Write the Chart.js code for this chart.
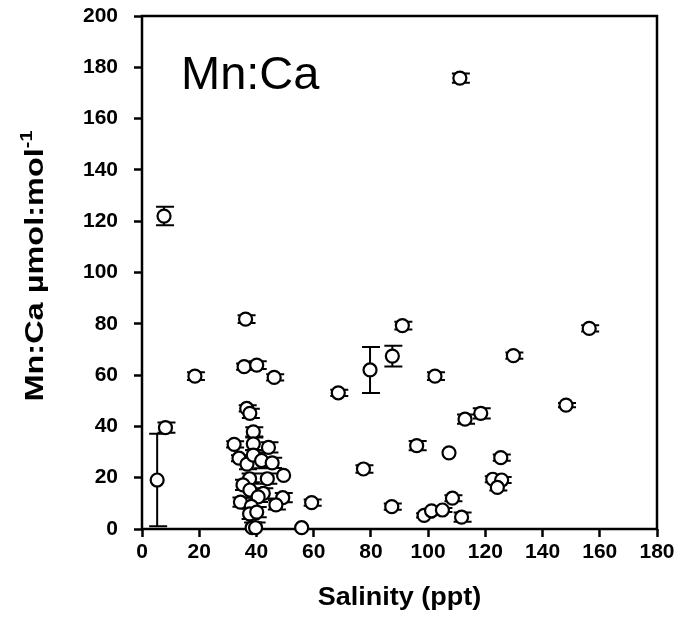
<!DOCTYPE html>
<html>
<head>
<meta charset="utf-8">
<script src="https://cdn.jsdelivr.net/npm/chart.js"></script>
<style>
  html, body { margin: 0; padding: 0; background: #fff; }
  #wrap { width: 685px; height: 636px; position: relative; }
</style>
</head>
<body>
<div id="wrap"><canvas id="mnChart"></canvas></div>
<script>
// salinity (ppt), Mn:Ca (umol/mol) and its error
const salinity = [
  5.3, 8.2, 7.7, 18.5, 36.2, 35.7, 40.1, 46.2, 68.6, 79.7,
  87.5, 91.0, 102.4, 111.1, 77.4, 96.0, 107.3, 87.3, 98.6, 101.2,
  105.0, 108.5, 111.7, 112.9, 118.4, 129.8, 156.3, 148.2, 125.4, 122.6,
  125.7, 124.2, 59.3, 55.8,
  36.6, 37.7, 38.9, 32.2, 38.9, 44.2, 33.9, 36.7, 38.9, 41.8,
  45.5, 49.5, 43.8, 37.6, 35.3, 37.7, 42.4, 40.6, 49.2, 34.4,
  38.2, 46.8, 37.6, 40.1, 38.5, 39.7
];
const mnca = [
  19.1, 39.5, 122.0, 59.6, 81.8, 63.3, 63.9, 59.1, 53.1, 62.0,
  67.4, 79.3, 59.6, 175.8, 23.4, 32.5, 29.7, 8.7, 5.3, 7.1,
  7.4, 12.0, 4.6, 42.8, 45.1, 67.6, 78.2, 48.3, 27.8, 19.4,
  19.1, 16.2, 10.3, 0.5,
  47.0, 45.1, 37.9, 33.0, 33.2, 31.8, 27.6, 25.3, 28.8, 26.7,
  25.8, 20.9, 19.6, 19.6, 17.2, 15.2, 13.9, 12.5, 12.2, 10.5,
  8.8, 9.4, 5.9, 6.6, 0.5, 0.5
];
const mncaErr = [
  18, 2, 3.6, 1.5, 1.5, 1.2, 1.5, 1.2, 1.2, 9,
  4, 1.5, 1.5, 1.8, 1.5, 1.8, 0, 1.2, 0.8, 0.8,
  0.8, 1.2, 1.8, 1.8, 2, 1.2, 1.2, 0.8, 1.2, 1.2,
  1.2, 1.2, 1.2, 0,
  1.2, 1.8, 1.8, 1.2, 2.5, 2, 1.2, 2, 2, 3,
  2, 0, 2, 2, 2, 3, 2, 2, 1.8, 1.8,
  2, 1.8, 2, 2, 2, 2
];
const xTicks = [0, 20, 40, 60, 80, 100, 120, 140, 160, 180];
const yTicks = [0, 20, 40, 60, 80, 100, 120, 140, 160, 180, 200];

const FONT = "'Liberation Sans', Arial, sans-serif";

const points = salinity.map((s, i) => ({ x: s, y: mnca[i] }));

// box round the plot area
const frame = {
  id: 'frame',
  beforeDatasetsDraw(chart) {
    const { ctx, chartArea: a } = chart;
    ctx.save();
    ctx.strokeStyle = '#000';
    ctx.lineWidth = 2.5;
    ctx.strokeRect(a.left, a.top, a.right - a.left, a.bottom - a.top);
    ctx.restore();
  }
};

// vertical error bars, drawn under the circles
const errorBars = {
  id: 'errorBars',
  beforeDatasetsDraw(chart) {
    const { ctx, scales: { x, y } } = chart;
    ctx.save();
    ctx.strokeStyle = '#000';
    ctx.lineWidth = 2;
    salinity.forEach((s, i) => {
      const e = mncaErr[i];
      if (!e) return;
      const px = x.getPixelForValue(s);
      const hi = y.getPixelForValue(mnca[i] + e);
      const lo = y.getPixelForValue(Math.max(0, mnca[i] - e));
      ctx.beginPath();
      ctx.moveTo(px, hi); ctx.lineTo(px, lo);
      ctx.moveTo(px - 8, hi); ctx.lineTo(px + 10, hi);
      ctx.moveTo(px - 8, lo); ctx.lineTo(px + 10, lo);
      ctx.stroke();
    });
    ctx.restore();
  }
};

// axis titles and the panel label
const labels = {
  id: 'labels',
  afterDraw(chart) {
    const { ctx, chartArea: a } = chart;
    ctx.save();
    ctx.fillStyle = '#000';

    ctx.font = `47px ${FONT}`;
    ctx.textAlign = 'left';
    ctx.textBaseline = 'alphabetic';
    ctx.fillText('Mn:Ca', 181, 89);

    ctx.font = `bold 25px ${FONT}`;
    ctx.textAlign = 'center';
    ctx.textBaseline = 'middle';
    ctx.save();
    ctx.translate((a.left + a.right) / 2, 598);
    ctx.scale(1.08, 1);
    ctx.fillText('Salinity (ppt)', 0, 0);
    ctx.restore();

    // y title with superscript -1
    const main = 'Mn:Ca µmol:mol';
    const sup = '-1';
    ctx.translate(34, 266);
    ctx.rotate(-Math.PI / 2);
    ctx.scale(1.25, 1);
    ctx.font = `bold 26px ${FONT}`;
    const wMain = ctx.measureText(main).width;
    ctx.font = `bold 16px ${FONT}`;
    const wSup = ctx.measureText(sup).width;
    const start = -(wMain + wSup) / 2;
    ctx.textAlign = 'left';
    ctx.textBaseline = 'alphabetic';
    ctx.font = `bold 26px ${FONT}`;
    ctx.fillText(main, start, 9);
    ctx.font = `bold 16px ${FONT}`;
    ctx.fillText(sup, start + wMain, -2);
    ctx.restore();
  }
};

const tickFont = { family: FONT, size: 21, weight: 'bold' };

new Chart(document.getElementById('mnChart'), {
  type: 'scatter',
  data: {
    datasets: [{
      label: 'Mn:Ca',
      data: points,
      pointRadius: 6.5,
      pointHoverRadius: 6.5,
      pointBorderWidth: 2.2,
      pointBackgroundColor: '#fff',
      pointBorderColor: '#000',
      clip: false
    }]
  },
  options: {
    responsive: true,
    maintainAspectRatio: false,
    animation: false,
    layout: { padding: { top: 16, right: 28, left: 0, bottom: 0 } },
    plugins: { legend: { display: false }, tooltip: { enabled: false } },
    scales: {
      x: {
        type: 'linear',
        min: 0, max: 180,
        afterBuildTicks: s => { s.ticks = xTicks.map(v => ({ value: v })); },
        afterFit: s => { s.height = 107; s.paddingLeft = 0; s.paddingRight = 0; },
        ticks: { color: '#000', font: tickFont, padding: 3, maxRotation: 0 },
        grid: { drawOnChartArea: false, drawTicks: true, tickLength: 8, tickWidth: 2.5, tickColor: '#000' },
        border: { display: false }
      },
      y: {
        type: 'linear',
        min: 0, max: 200,
        afterBuildTicks: s => { s.ticks = yTicks.map(v => ({ value: v })); },
        afterFit: s => { s.width = 142; s.paddingTop = 0; s.paddingBottom = 0; },
        ticks: { color: '#000', font: tickFont, padding: 16 },
        grid: { drawOnChartArea: false, drawTicks: true, tickLength: 8, tickWidth: 2.5, tickColor: '#000' },
        border: { display: false }
      }
    }
  },
  plugins: [frame, errorBars, labels]
});
</script>
</body>
</html>
